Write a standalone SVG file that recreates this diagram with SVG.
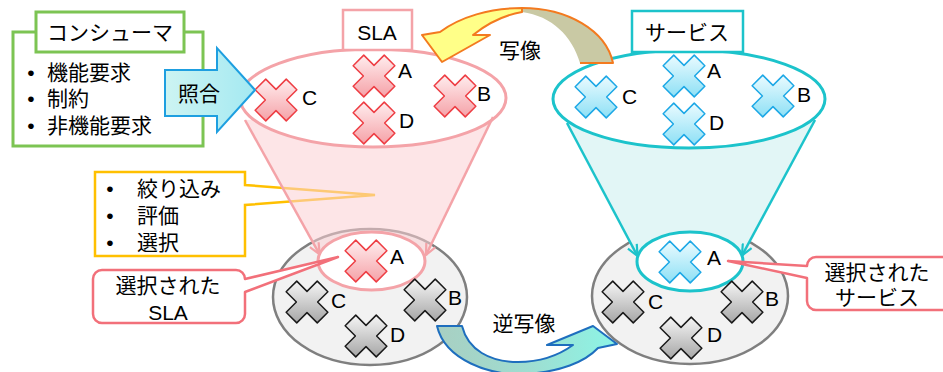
<svg xmlns="http://www.w3.org/2000/svg" width="943" height="372" viewBox="0 0 943 372">
<defs>
<style>
.t{font-family:"Liberation Sans","Noto Sans CJK JP",sans-serif;font-size:21px;fill:#000}
.m{text-anchor:middle}
.xp{fill:url(#gp);stroke:#EE3E44;stroke-width:1.5;stroke-linejoin:round}
.xb{fill:url(#gb);stroke:#1DA8E6;stroke-width:1.5;stroke-linejoin:round}
.xg{fill:url(#gg);stroke:#1A1A1A;stroke-width:1.5;stroke-linejoin:round}
.pk{fill:#fff;stroke:#F4A3A8;stroke-width:3}
.cy{fill:#fff;stroke:#1CC3CB;stroke-width:3}
.gy{fill:#F2F2F2;stroke:#7F7F7F;stroke-width:2.5}
.call{fill:#fff;stroke:#F2707A;stroke-width:2.5;stroke-linejoin:round}
</style>
<linearGradient id="gp" x1="0" y1="0" x2="0" y2="1"><stop offset="0" stop-color="#FFEDEE"/><stop offset="1" stop-color="#F5A2A8"/></linearGradient>
<linearGradient id="gb" x1="0" y1="0" x2="0" y2="1"><stop offset="0" stop-color="#EAFBFF"/><stop offset="1" stop-color="#8EE0F5"/></linearGradient>
<linearGradient id="gg" x1="0" y1="0" x2="0" y2="1"><stop offset="0" stop-color="#F6F6F6"/><stop offset="1" stop-color="#A6A6A6"/></linearGradient>
<linearGradient id="gcheck" x1="0" y1="0" x2="1" y2="0"><stop offset="0" stop-color="#CDF4F2"/><stop offset="1" stop-color="#A4E9F2"/></linearGradient>
<linearGradient id="ginv" x1="0" y1="0" x2="1" y2="0"><stop offset="0" stop-color="#A8CFC2"/><stop offset="0.5" stop-color="#9FDDD0"/><stop offset="1" stop-color="#8CF5E6"/></linearGradient>
<path id="x" d="M10.25,-20.86 L20.86,-10.25 L10.61,0 L20.86,10.25 L10.25,20.86 L0,10.61 L-10.25,20.86 L-20.86,10.25 L-10.61,0 L-20.86,-10.25 L-10.25,-20.86 L0,-10.61 Z"/>
<marker id="ap" viewBox="0 0 13 12" refX="12" refY="6" markerWidth="13" markerHeight="12" markerUnits="userSpaceOnUse" orient="auto"><path d="M1,1 L12,6 L1,11" fill="none" stroke="#F4A3A8" stroke-width="2.2" stroke-linejoin="round"/></marker>
<marker id="ac" viewBox="0 0 13 12" refX="12" refY="6" markerWidth="13" markerHeight="12" markerUnits="userSpaceOnUse" orient="auto"><path d="M1,1 L12,6 L1,11" fill="none" stroke="#1CC3CB" stroke-width="2.2" stroke-linejoin="round"/></marker>
</defs>
<rect width="943" height="372" fill="#fff"/>

<g id="consumer">
<rect x="13" y="32" width="190" height="114" fill="#fff" stroke="#7CC453" stroke-width="3"/>
<rect x="36" y="12" width="148" height="40" fill="#fff" stroke="#7CC453" stroke-width="3"/>
<text class="t m" x="110" y="40" font-size="20">コンシューマ</text>
<text class="t m" x="31" y="80">•</text><text class="t" x="47" y="80" font-size="22">機能要求</text>
<text class="t m" x="31" y="106">•</text><text class="t" x="47" y="106" font-size="22">制約</text>
<text class="t m" x="31" y="133">•</text><text class="t" x="47" y="133" font-size="22">非機能要求</text>
</g>

<g id="filter-callout">
<path d="M95,172 H245 V185 L375,195 L245,205 V256 H95 Z" fill="#fff" stroke="#FFC000" stroke-width="2.5" stroke-linejoin="miter"/>
<text class="t m" x="110" y="196">•</text><text class="t" x="137" y="196">絞り込み</text>
<text class="t m" x="110" y="223">•</text><text class="t" x="137" y="223">評価</text>
<text class="t m" x="110" y="250">•</text><text class="t" x="137" y="250">選択</text>
</g>

<g id="sla-selected-set">
<ellipse class="gy" cx="370" cy="297" rx="97" ry="68"/>
</g>
<g id="service-selected-set">
<ellipse class="gy" cx="690" cy="296" rx="98" ry="68"/>
</g>

<g id="sla-funnel">
<path d="M245,120 L493,117 L423.7,262 L323.9,262 Z" fill="#FBD0D4" fill-opacity="0.55"/>
</g>
<g id="service-funnel">
<path d="M567,123 L815,120 L738.7,263 L640.1,263 Z" fill="#E2F6F6"/>
</g>

<g id="sla">
<ellipse class="pk" cx="373" cy="98" rx="133" ry="49"/>
<rect x="343" y="10" width="69" height="40" fill="#fff" stroke="#F4A3A8" stroke-width="2.5"/>
<text class="t m" x="377" y="40" font-size="22">SLA</text>
<use href="#x" x="374" y="76" class="xp"/><text class="t" x="398" y="78">A</text>
<use href="#x" x="455" y="96" class="xp"/><text class="t" x="477" y="101">B</text>
<use href="#x" x="276" y="100" class="xp"/><text class="t" x="302" y="105">C</text>
<use href="#x" x="374" y="123" class="xp"/><text class="t" x="399" y="128">D</text>
</g>

<g id="service">
<ellipse class="cy" cx="689" cy="99" rx="136" ry="49"/>
<rect x="632" y="11" width="111" height="41" fill="#fff" stroke="#1CC3CB" stroke-width="2.5"/>
<text class="t m" x="687" y="40">サービス</text>
<use href="#x" x="684" y="76" class="xb"/><text class="t" x="707" y="78">A</text>
<use href="#x" x="773" y="96" class="xb"/><text class="t" x="797" y="102">B</text>
<use href="#x" x="596" y="97" class="xb"/><text class="t" x="622" y="104">C</text>
<use href="#x" x="684" y="124" class="xb"/><text class="t" x="709" y="130">D</text>
</g>

<g id="sla-result">
<ellipse class="pk" cx="371.5" cy="261" rx="53.5" ry="29"/>
<use href="#x" x="366" y="261" class="xp"/><text class="t" x="390" y="264">A</text>
<use href="#x" x="307" y="302" class="xg"/><text class="t" x="331" y="308">C</text>
<use href="#x" x="425" y="300" class="xg"/><text class="t" x="448" y="305">B</text>
<use href="#x" x="366" y="336" class="xg"/><text class="t" x="390" y="342">D</text>
</g>

<g id="service-result">
<ellipse class="cy" cx="690" cy="261.5" rx="53" ry="29.5"/>
<use href="#x" x="680" y="262" class="xb"/><text class="t" x="707" y="265">A</text>
<use href="#x" x="623" y="302" class="xg"/><text class="t" x="648" y="309">C</text>
<use href="#x" x="742" y="302" class="xg"/><text class="t" x="765" y="306">B</text>
<use href="#x" x="681" y="338" class="xg"/><text class="t" x="707" y="342">D</text>
</g>

<g id="connectors">
<line x1="245" y1="120" x2="319.6" y2="254.3" stroke="#F4A3A8" stroke-width="2.5" marker-end="url(#ap)"/>
<line x1="493" y1="117" x2="426" y2="255" stroke="#F4A3A8" stroke-width="2.5" marker-end="url(#ap)"/>
<line x1="567" y1="123" x2="637.5" y2="256" stroke="#1CC3CB" stroke-width="2.5" marker-end="url(#ac)"/>
<line x1="815" y1="120" x2="742" y2="255.5" stroke="#1CC3CB" stroke-width="2.5" marker-end="url(#ac)"/>

<g id="check-arrow">
<path d="M165,70 H217 V48 L255,90 L217,132 V116 H165 Z" fill="url(#gcheck)" stroke="#1E9FE0" stroke-width="2" stroke-linejoin="miter"/>
<text class="t m" x="199" y="101" font-size="22">照合</text>
</g>

<g id="map-arrow">
<path d="M522,8 C567,8 606,30 613,63 L580,63 C572,36 552,16 522,12 Z" fill="#C9C9A4"/>
<path d="M580,63 L613,63 C606,30 567,8 522,8" fill="none" stroke="#F37A1F" stroke-width="2" stroke-linejoin="round"/>
<path d="M522,8 C490,8 460,17 440,32 L422,35 L442,62 L490,35 L473,35 C488,23 505,15 522,12 Z" fill="#FFFF88" stroke="#F37A1F" stroke-width="2" stroke-linejoin="round"/>
<text class="t m" x="520" y="58" font-size="22">写像</text>
</g>

<g id="inverse-arrow">
<path d="M437,326 C445,360 490,376 525,374 C560,372 585,362 598,348 L617,344 L593,326 L547,345 L573,345 C555,358 535,362 518,362 C490,362 468,350 462,326 Z" fill="url(#ginv)" stroke="#1E6EBE" stroke-width="2" stroke-linejoin="round"/>
<text class="t m" x="524" y="331" font-size="22">逆写像</text>
</g>
</g>

<g id="selected-sla-callout">
<path class="call" d="M102,270 H236 A9,9 0 0 1 245,279 L338,257 L245,292 V314 A9,9 0 0 1 236,323 H102 A9,9 0 0 1 93,314 V279 A9,9 0 0 1 102,270 Z"/>
<text class="t m" x="168" y="293">選択された</text>
<text class="t m" x="168" y="320">SLA</text>
</g>

<g id="selected-service-callout">
<path class="call" d="M955,257 H816 A9,9 0 0 0 807,266 L728,261 L807,278 V301 A9,9 0 0 0 816,310 H955 Z"/>
<text class="t m" x="877" y="280">選択された</text>
<text class="t m" x="877" y="305">サービス</text>
</g>
</svg>
